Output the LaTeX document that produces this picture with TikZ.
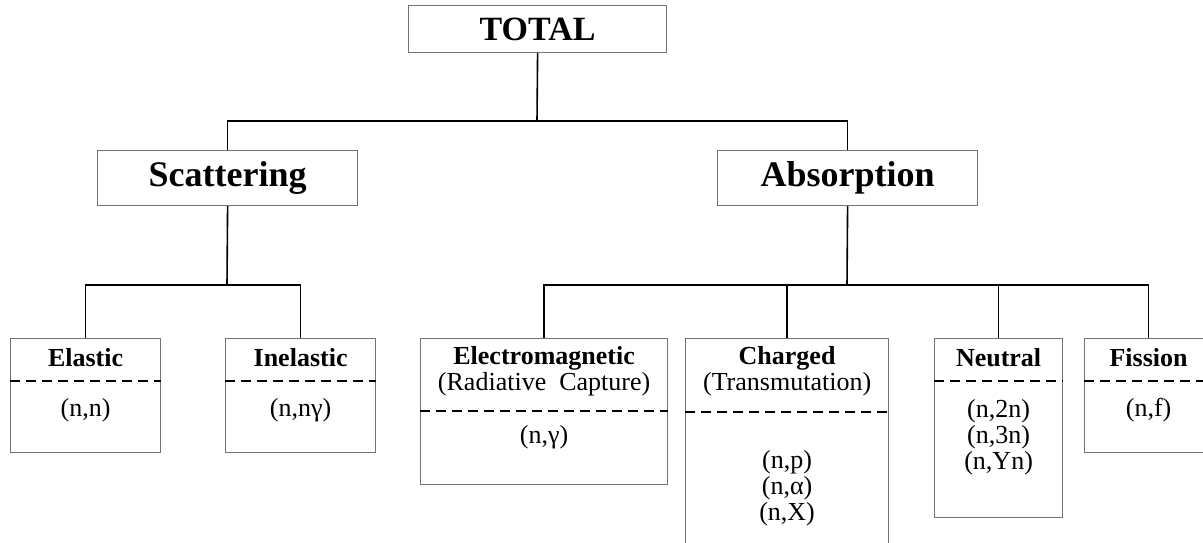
\documentclass[tikz,border=0pt]{standalone}
\usepackage{fontspec}
\setmainfont{Liberation Serif}
\usetikzlibrary{positioning}

\tikzset{
  box/.style={draw=black!55, line width=0.6pt, rectangle, inner sep=0pt, anchor=north west},
  link/.style={draw=black, line width=0.8pt},
  split/.style={draw=black, line width=0.9pt, dash pattern=on 5pt off 3pt},
  head/.style={font=\bfseries\fontsize{13}{13}\selectfont, inner sep=0pt},
  sub/.style={font=\fontsize{13}{13}\selectfont, inner sep=0pt, align=center},
  big/.style={font=\bfseries\fontsize{18}{18}\selectfont, inner sep=0pt},
}

\begin{document}
\begin{tikzpicture}[x=0.5pt, y=-0.5pt]
\useasboundingbox (0,0) rectangle (1203,542);
\clip (0,0) rectangle (1203,542);

% top levels
\node[box, minimum width=129pt, minimum height=23.5pt] (total) at (408,5) {};
\node[big, font=\bfseries\fontsize{17}{17}\selectfont] (total-t) at (total.center) {TOTAL};
\node[box, minimum width=130pt, minimum height=27.5pt] (scat) at (97,150) {};
\node[big] (scat-t) at (scat.center) {Scattering};
\node[box, minimum width=130pt, minimum height=27.5pt] (absn) at (717,150) {};
\node[big] (absn-t) at (absn.center) {Absorption};

% leaf boxes
\node[box, minimum width=75pt, minimum height=57pt] (elastic) at (10,338) {};
\node[box, minimum width=75pt, minimum height=57pt] (inelastic) at (225,338) {};
\node[box, minimum width=123.5pt, minimum height=73pt] (em) at (420,338) {};
\node[box, minimum width=101.5pt, minimum height=115pt] (charged) at (685,338) {};
\node[box, minimum width=64pt, minimum height=89.5pt] (neutral) at (934,338) {};
\node[box, minimum width=64pt, minimum height=57pt] (fission) at (1084,338) {};

% titles and reactions
\node[head] (elastic-t) at ([yshift=-10pt]elastic.north) {Elastic};
\node[sub] (elastic-r) at ([yshift=-36pt]elastic.north) {(n,n)};
\node[head] (inelastic-t) at ([yshift=-10pt]inelastic.north) {Inelastic};
\node[sub] (inelastic-r) at ([yshift=-36pt]inelastic.north) {(n,nγ)};
\node[head] (em-t) at ([yshift=-10pt]em.north) {Electromagnetic};
\node[sub] (em-s) at ([yshift=-23pt]em.north) {(Radiative\ \ Capture)};
\node[sub] (em-r) at ([yshift=-49.5pt]em.north) {(n,γ)};
\node[head] (charged-t) at ([yshift=-10pt]charged.north) {Charged};
\node[sub] (charged-s) at ([yshift=-23pt]charged.north) {(Transmutation)};
\node[sub] (charged-r) at ([yshift=-75pt]charged.north) {(n,p)\\(n,α)\\(n,X)};
\node[head] (neutral-t) at ([yshift=-10pt]neutral.north) {Neutral};
\node[sub] (neutral-r) at ([yshift=-49.5pt]neutral.north) {(n,2n)\\(n,3n)\\(n,Yn)};
\node[head] (fission-t) at ([yshift=-10pt]fission.north) {Fission};
\node[sub] (fission-r) at ([yshift=-36pt]fission.north) {(n,f)};

% dashed separators
\draw[split] ([yshift=-21.5pt]elastic.north west) -- ([yshift=-21.5pt]elastic.north east);
\draw[split] ([yshift=-21.5pt]inelastic.north west) -- ([yshift=-21.5pt]inelastic.north east);
\draw[split] ([yshift=-36.5pt]em.north west) -- ([yshift=-36.5pt]em.north east);
\draw[split] ([yshift=-37pt]charged.north west) -- ([yshift=-37pt]charged.north east);
\draw[split] ([yshift=-21.5pt]neutral.north west) -- ([yshift=-21.5pt]neutral.north east);
\draw[split] ([yshift=-21.5pt]fission.north west) -- ([yshift=-21.5pt]fission.north east);

% connectors
\coordinate (top) at (537,121);
\coordinate (lj) at (227,285);
\coordinate (rj) at (847,285);
\draw[link] (total.south) -- (top);
\draw[link] (scat.north) |- (top) -| (absn.north);
\draw[link] (scat.south) -- (lj);
\draw[link] (elastic.north) |- (lj) -| (inelastic.north);
\draw[link] (absn.south) -- (rj);
\draw[link] (em.north) |- (rj) -| (fission.north);
\draw[link] (charged.north) -- (charged.north |- rj);
\draw[link] (neutral.north) -- (neutral.north |- rj);
\end{tikzpicture}
\end{document}
